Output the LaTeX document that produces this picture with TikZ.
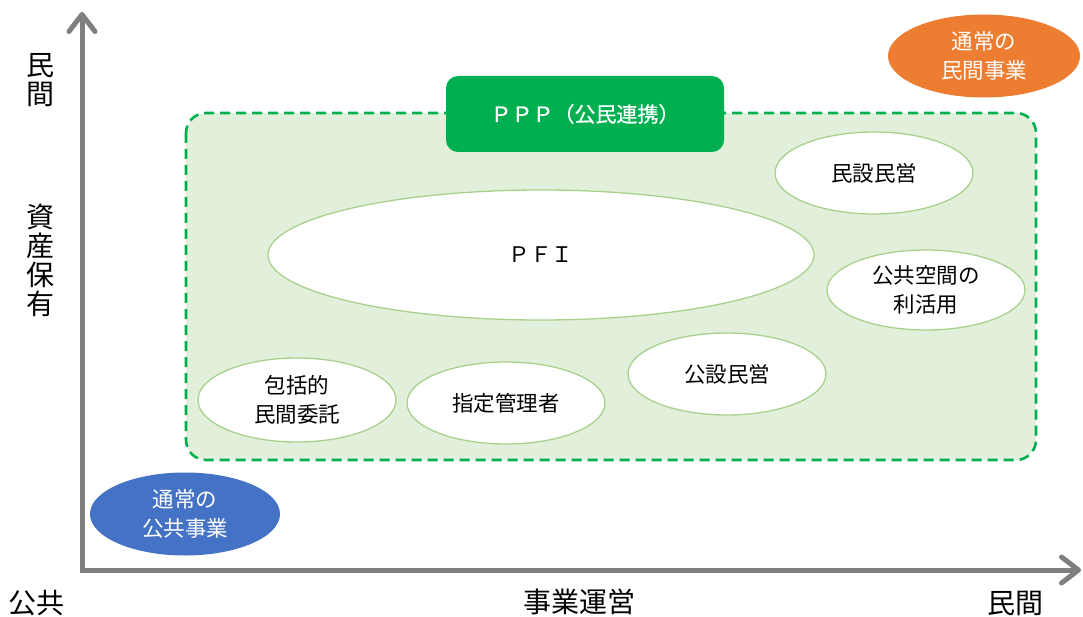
\documentclass[tikz,border=0pt]{standalone}
\usepackage{fontspec}
\newfontfamily\jp{Noto Sans CJK JP}
\newfontfamily\jpb[FakeBold=0.6]{Noto Sans CJK JP}
\usetikzlibrary{shapes.geometric,arrows.meta}
\definecolor{axisgray}{HTML}{7F7F7F}
\definecolor{pppgreen}{HTML}{00B050}
\definecolor{areagreen}{HTML}{E2EFDA}
\definecolor{ellborder}{HTML}{A9D18E}
\definecolor{pubblue}{HTML}{4472C4}
\definecolor{privorange}{HTML}{ED7D31}
\tikzset{
  axisline/.style={draw=axisgray, line width=5pt,
    arrows={Straight Barb[length=17pt,width=26pt,round]-Straight Barb[length=17pt,width=26pt,round]}},
  axislabel/.style={font=\jp\fontsize{28}{29}\selectfont, align=center, inner sep=0pt},
  pppregion/.style={draw=pppgreen, fill=areagreen, line width=2.6pt, dash pattern=on 10pt off 6pt, rounded corners=20pt},
  pppbox/.style={fill=pppgreen, rounded corners=12pt, text=white, font=\jpb\fontsize{21}{29}\selectfont},
  scheme/.style={ellipse, draw=ellborder, fill=white, line width=1.3pt, inner sep=0pt,
    minimum width=198pt, minimum height=82pt, align=center, font=\jp\fontsize{21.5}{29}\selectfont},
  normal/.style={ellipse, draw=none, inner sep=0pt, text=white,
    minimum width=192pt, minimum height=83pt, align=center, font=\jp\fontsize{21.5}{29}\selectfont}
}
\begin{document}
\begin{tikzpicture}[x=1pt,y=-1pt]
\useasboundingbox (0,0) rectangle (1083,617);
% axes
\coordinate (ytop) at (82,12);
\coordinate (origin) at (82,570);
\coordinate (xend) at (1081,570);
\draw[axisline] (ytop) -- (origin) -- (xend);
% axis labels
\node[axislabel] (ypriv) at (40,80) {民\\間};
\node[axislabel] (yasset) at (40,260) {資\\産\\保\\有};
\node[axislabel] (xpub) at (37,603) {公共};
\node[axislabel] (xop) at (579,602) {事業運営};
\node[axislabel] (xpriv) at (1015,603) {民間};
% PPP region
\path[pppregion] (186,113) rectangle (1036,460);
\node[pppbox, minimum width=278pt, minimum height=76pt, inner sep=0pt] (ppp) at (585,114) {ＰＰＰ（公民連携）};
% schemes
\node[scheme, minimum width=546pt, minimum height=130pt] (pfi) at (541,255) {ＰＦＩ};
\node[scheme] (minsetsu) at (874,173) {民設民営};
\node[scheme, minimum height=80pt] (kokyo) at (926,290) {公共空間の\\利活用};
\node[scheme] (kosetsu) at (727,374) {公設民営};
\node[scheme] (shitei) at (506,403) {指定管理者};
\node[scheme, minimum height=84pt] (hokatsu) at (297,400) {包括的\\民間委託};
% normal public / private projects
\node[normal, fill=pubblue, minimum width=190pt] (pub) at (185,514) {通常の\\公共事業};
\node[normal, fill=privorange] (priv) at (984,56) {通常の\\民間事業};
\end{tikzpicture}
\end{document}
